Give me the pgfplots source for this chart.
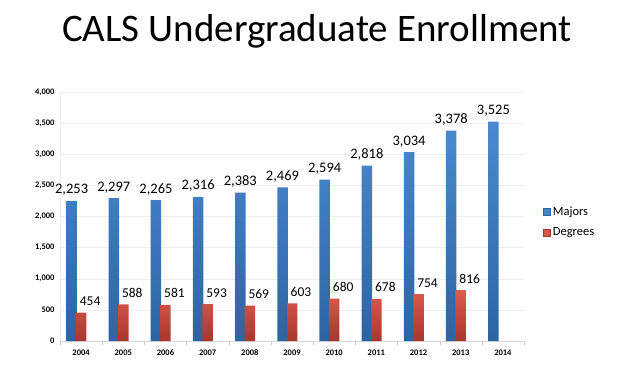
\documentclass[border=0pt]{standalone}
\usepackage{pgfplots}
\pgfplotsset{compat=1.18}
\usepackage{fontspec}
\setmainfont{Carlito}
\definecolor{blueT}{HTML}{4A8AD0}
\definecolor{blueB}{HTML}{2C64A3}
\definecolor{redT}{HTML}{DD5A4E}
\definecolor{redB}{HTML}{A8372E}
\definecolor{gridc}{HTML}{EEEEEE}
\begin{document}
\begin{tikzpicture}
\path (-60pt,-24pt) rectangle (573pt,341pt);
\node[anchor=base,font=\fontsize{39}{44}\selectfont] at (257pt,299pt) {CALS Undergraduate Enrollment};
\begin{axis}[
  scale only axis,
  width=464pt, height=249pt,
  at={(0,0)}, anchor=south west,
  ybar, bar width=10.5pt,
  xmin=-0.5, xmax=10.5,
  ymin=0, ymax=4000,
  ytick={0,500,...,4000},
  xtick={0,...,10},
  xticklabels={2004,2005,2006,2007,2008,2009,2010,2011,2012,2013,2014},
  minor xtick={-0.5,0.5,...,10.5},
  xtick align=outside,
  major x tick style={draw=none},
  minor x tick style={draw=gridc!70!gray},
  minor tick length=4pt,
  ytick style={draw=none},
  ymajorgrids, major grid style={gridc},
  axis x line*=bottom, axis y line*=left,
  x axis line style={draw=gridc!80!gray, -},
  y axis line style={draw=gridc, -},
  tick label style={font=\fontsize{8.5}{10}\selectfont\bfseries},
  /pgf/number format/assume math mode=true,
  /pgf/number format/.cd, 1000 sep={,}, /pgfplots/.cd,
  yticklabel style={xshift=-2pt},
  xticklabel style={yshift=-1pt},
  nodes near coords,
  nodes near coords style={font=\fontsize{14.5}{16}\selectfont, anchor=base, yshift=7pt, /pgf/number format/1000 sep={,}},
  legend style={at={(1.035,0.478)}, anchor=west, draw=none, fill=none,
    font=\fontsize{12.5}{14}\selectfont, row sep=7pt,
    legend cell align=left},
  legend image code/.code={\fill[#1] (0pt,-3.5pt) rectangle (7pt,3.5pt);},
]
\addplot[bar shift=-9.5pt, draw=none, top color=blueT, bottom color=blueB, forget plot] coordinates {
(0,2253) (1,2297) (2,2265) (3,2316) (4,2383) (5,2469) (6,2594) (7,2818) (8,3034) (9,3378) (10,3525)};
\addplot[bar shift=0pt, draw=none, top color=redT, bottom color=redB, forget plot,
  nodes near coords style={font=\fontsize{13.5}{15}\selectfont, xshift=9pt}] coordinates {
(0,454) (1,588) (2,581) (3,593) (4,569) (5,603) (6,680) (7,678) (8,754) (9,816)};
\addlegendimage{fill=blueT!85!blueB, draw=blueB}
\addlegendentry{Majors}
\addlegendimage{fill=redT!85!redB, draw=redB}
\addlegendentry{Degrees}
\end{axis}
\end{tikzpicture}
\end{document}
